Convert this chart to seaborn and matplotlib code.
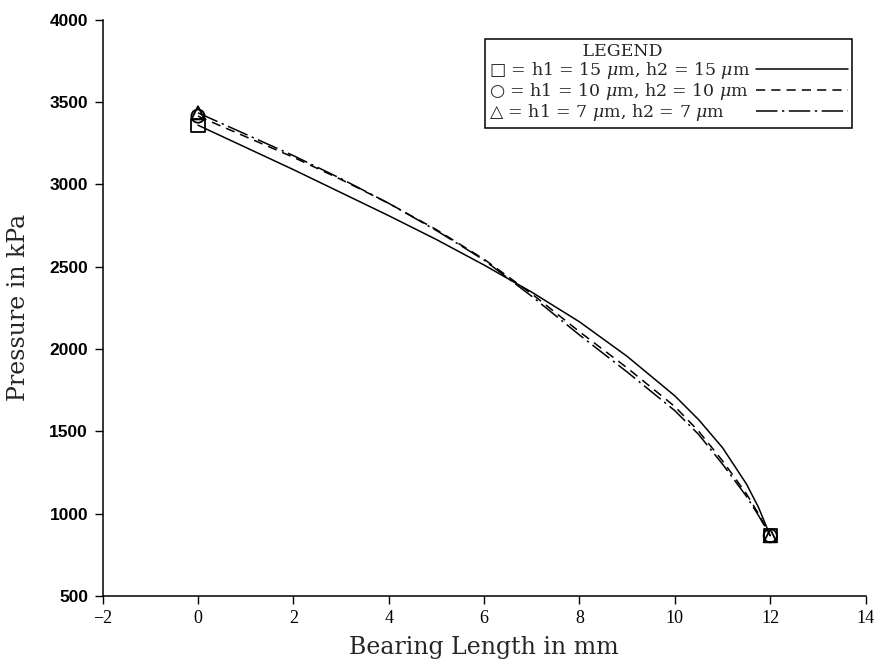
import matplotlib
matplotlib.use("Agg")
import matplotlib.pyplot as plt
import seaborn as sns
import pandas as pd

# ---- data ----
x_mm = [0, 1, 2, 3, 4, 5, 6, 7, 8, 9, 10, 10.5, 11, 11.5, 11.75, 12]
p_h15 = [3360, 3225, 3090, 2950, 2810, 2665, 2510, 2345, 2165, 1955, 1715, 1570, 1400, 1180, 1040, 865]
p_h10 = [3415, 3290, 3165, 3030, 2885, 2725, 2545, 2335, 2105, 1885, 1650, 1500, 1320, 1120, 1000, 865]
p_h7 = [3435, 3305, 3175, 3035, 2885, 2720, 2540, 2320, 2085, 1860, 1625, 1480, 1300, 1105, 990, 865]

labels = [r"□ = h1 = 15 $\mu$m, h2 = 15 $\mu$m",
          r"○ = h1 = 10 $\mu$m, h2 = 10 $\mu$m",
          r"△ = h1 = 7 $\mu$m, h2 = 7 $\mu$m"]
x_ticks = [-2, 0, 2, 4, 6, 8, 10, 12, 14]
y_ticks = [500, 1000, 1500, 2000, 2500, 3000, 3500, 4000]

sns.set_style("ticks")
plt.rcParams['font.family'] = ['DejaVu Serif', 'DejaVu Sans']
plt.rcParams['mathtext.fontset'] = 'dejavuserif'

fig = plt.figure(figsize=(8.77, 6.62), dpi=100)
ax = fig.add_axes([0.117, 0.100, 0.870, 0.870])

series = [(p_h15, "-", "s"), (p_h10, (0, (6, 4)), "o"), (p_h7, (0, (14, 3, 1.5, 3)), "^")]
handles = []
for (vals, ls, mk), lab in zip(series, labels):
    df = pd.DataFrame({"x": x_mm, "p": vals})
    sns.lineplot(data=df, x="x", y="p", ax=ax, color="black", linewidth=1.1,
                 linestyle=ls, sort=False, estimator=None, legend=False)
    ends = df.iloc[[0, -1]]
    sns.scatterplot(data=ends, x="x", y="p", ax=ax, marker=mk, s=90,
                    facecolor="none", edgecolor="black", linewidth=1.3,
                    legend=False, zorder=5)
    h, = ax.plot([], [], color="black", linewidth=1.1, linestyle=ls)
    handles.append(h)

ax.set_xlim(-2, 14)
ax.set_ylim(500, 4000)
ax.set_xticks(x_ticks)
ax.set_yticks(y_ticks)
ax.set_xticklabels([str(t) if t >= 0 else "\u22122" for t in x_ticks],
                   fontfamily=['Liberation Serif'], fontsize=13)
ax.set_yticklabels([str(t) for t in y_ticks], fontfamily=['Liberation Sans'],
                   fontsize=12.5, fontweight='bold')
ax.tick_params(direction="out", length=6, width=1, colors="black", pad=4.5)
sns.despine(ax=ax)
for s in ["left", "bottom"]:
    ax.spines[s].set_linewidth(1.1)
    ax.spines[s].set_color("black")

ax.set_xlabel("Bearing Length in mm", fontsize=17, labelpad=6)
ax.set_ylabel("Pressure in kPa", fontsize=17, labelpad=14)

fs = 12.5
tpad = 0.3
leg = ax.legend(handles, labels, title=" " * 17 + "LEGEND", loc="upper right",
                bbox_to_anchor=(0.982, 0.967), markerfirst=False,
                fontsize=fs, title_fontsize=fs, frameon=True, fancybox=False,
                edgecolor="black", framealpha=1, handlelength=5.3,
                borderpad=0.25, labelspacing=0.0, handletextpad=tpad,
                borderaxespad=0, alignment="left")
leg.get_frame().set_linewidth(1.1)

# left-align the label texts while keeping the line samples in one column
fig.canvas.draw()
r = fig.canvas.get_renderer()
col = leg._legend_handle_box.get_children()[0]
col.align = "left"
items = col.get_children()
widths = [it.get_children()[0].get_bbox(r).width for it in items]
pt = r.points_to_pixels(1.0)
mw = max(widths)
for it, w in zip(items, widths):
    it.sep = tpad * fs + (mw - w) / pt

fig.savefig("out.png", dpi=100)
